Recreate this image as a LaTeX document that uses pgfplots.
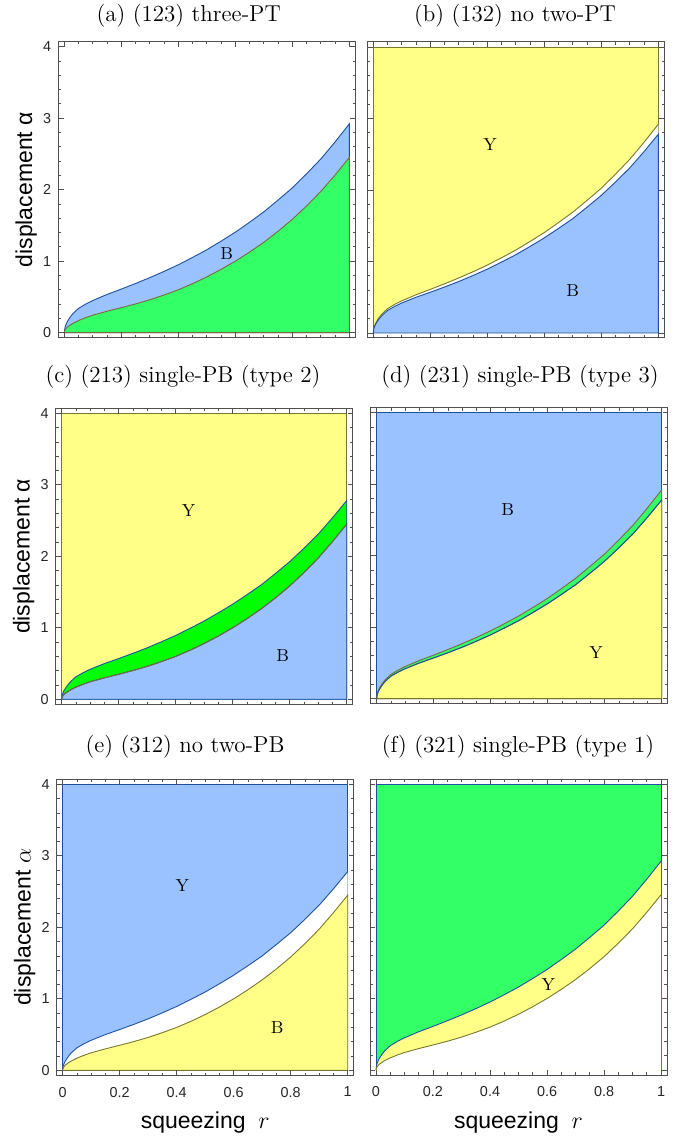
\documentclass[border=0pt]{standalone}
\usepackage{fontspec}
\setsansfont{Liberation Sans}
\usepackage{pgfplots}
\pgfplotsset{compat=1.18}
\usepackage{pgfplotstable}

\definecolor{cB}{RGB}{153,194,255}
\definecolor{eB}{RGB}{30,80,160}
\definecolor{cY}{RGB}{255,255,136}
\definecolor{eY}{RGB}{120,120,45}
\definecolor{cG}{RGB}{51,255,102}
\definecolor{cGc}{RGB}{0,255,0}
\definecolor{eG}{RGB}{125,105,60}
\definecolor{frm}{RGB}{80,80,80}

% boundary curves U > M > L; the last row closes each area down to y=0
\pgfplotstableread{
r U M L
0 0 0 0
0.002 0.065 0.06 0.033
0.005 0.105 0.095 0.052
0.01 0.15 0.135 0.075
0.02 0.215 0.195 0.105
0.03 0.265 0.243 0.13
0.05 0.34 0.315 0.17
0.075 0.40 0.372 0.21
0.1 0.45 0.42 0.245
0.15 0.535 0.50 0.30
0.2 0.61 0.57 0.35
0.25 0.688 0.643 0.402
0.3 0.77 0.72 0.46
0.35 0.857 0.804 0.527
0.4 0.95 0.893 0.60
0.45 1.053 0.992 0.685
0.5 1.16 1.095 0.78
0.55 1.28 1.21 0.885
0.6 1.405 1.33 1.00
0.65 1.545 1.463 1.127
0.7 1.69 1.60 1.265
0.75 1.855 1.76 1.418
0.8 2.025 1.925 1.585
0.85 2.222 2.112 1.772
0.9 2.43 2.31 1.975
0.95 2.668 2.538 2.205
1.0 2.92 2.78 2.45
1.0 0 0 0
}\curves

\pgfplotstableread{
x y
0 0
0 4
1 4
1 0
}\boxt

\pgfplotsset{
 panel/.style={
  scale only axis, width=148.5pt, height=148pt,
  anchor=north west,
  xmin=-0.021, xmax=1.021, ymin=-0.07, ymax=4.07,
  xtick={0,0.2,0.4,0.6,0.8,1}, ytick={0,1,2,3,4},
  minor x tick num=3, minor y tick num=4,
  tick align=inside, major tick length=2.6pt, minor tick length=1.4pt,
  axis line style={frm, line width=0.5pt},
  every tick/.style={frm, line width=0.4pt},
  tick label style={font=\sffamily\fontsize{7.2}{8}\selectfont, text=black!85},
  /pgf/number format/assume math mode=true,
  xticklabels={}, yticklabels={},
  axis on top,
  ylabel style={at={(axis description cs:-0.108,0.5)}, anchor=center, font=\sffamily\fontsize{11.5}{13}\selectfont},
  xlabel style={at={(axis description cs:0.5,-0.16)}, anchor=center, font=\sffamily\fontsize{11.5}{13}\selectfont},
  xticklabel style={yshift=-2.3pt},
 },
 bottomrow/.style={xticklabels={0,0.2,0.4,0.6,0.8,1}, xlabel={squeezing\ \ $r$}},
 leftcol/.style={yticklabels={0,1,2,3,4}},
 reg/.style={line width=0.45pt},
 curve/.style={line width=0.45pt, skip coords between index={27}{28}},
}

\newcommand{\lab}[3]{\node[font=\fontsize{8.7}{10}\selectfont] at (axis cs:#1,#2) {#3};}

\begin{document}
\begin{tikzpicture}
\useasboundingbox (0,0) rectangle (346.5pt,-569.5pt);

% (a)
\begin{axis}[panel, leftcol, at={(29.15pt,-20.85pt)}, ylabel={displacement α}]
\addplot[reg, fill=cB, draw=eB] table[x=r,y=U]{\curves} -- cycle;
\addplot[reg, fill=cG, draw=eG] table[x=r,y=L]{\curves} -- cycle;
\lab{0.57}{1.11}{B}
\end{axis}

% (b)
\begin{axis}[panel, at={(183.65pt,-21.0pt)}]
\addplot[fill=cY, draw=none] table[x=x,y=y]{\boxt} -- cycle;
\addplot[reg, draw=eY] table[x=x,y=y]{\boxt};
\addplot[fill=white, draw=none] table[x=r,y=U]{\curves} -- cycle;
\addplot[curve, draw=eY] table[x=r,y=U]{\curves};
\addplot[reg, fill=cB, draw=eB] table[x=r,y=M]{\curves} -- cycle;
\lab{0.41}{2.64}{Y}
\lab{0.70}{0.59}{B}
\end{axis}

% (c)
\begin{axis}[panel, leftcol, at={(27.85pt,-204.15pt)}, ylabel={displacement α}]
\addplot[fill=cY, draw=none] table[x=x,y=y]{\boxt} -- cycle;
\addplot[reg, draw=eY] table[x=x,y=y]{\boxt};
\addplot[reg, fill=cGc, draw=eB] table[x=r,y=M]{\curves} -- cycle;
\addplot[reg, fill=cB, draw=eB] table[x=r,y=L]{\curves} -- cycle;
\addplot[curve, draw=eG] table[x=r,y=L]{\curves};
\lab{0.445}{2.64}{Y}
\lab{0.775}{0.61}{B}
\end{axis}

% (d)
\begin{axis}[panel, at={(185.35pt,-203.85pt)}]
\addplot[fill=cB, draw=none] table[x=x,y=y]{\boxt} -- cycle;
\addplot[reg, draw=eB] table[x=x,y=y]{\boxt};
\addplot[reg, fill=cG, draw=eG] table[x=r,y=U]{\curves} -- cycle;
\addplot[reg, fill=cY, draw=eY] table[x=r,y=M]{\curves} -- cycle;
\addplot[curve, draw=eB] table[x=r,y=M]{\curves};
\lab{0.46}{2.65}{B}
\lab{0.77}{0.64}{Y}
\end{axis}

% (e)
\begin{axis}[panel, leftcol, bottomrow, at={(28.35pt,-389.65pt)}, ylabel={displacement $\alpha$}]
\addplot[fill=cB, draw=none] table[x=x,y=y]{\boxt} -- cycle;
\addplot[reg, draw=eB] table[x=x,y=y]{\boxt};
\addplot[fill=white, draw=none] table[x=r,y=M]{\curves} -- cycle;
\addplot[curve, draw=eB] table[x=r,y=M]{\curves};
\addplot[reg, fill=cY, draw=eY] table[x=r,y=L]{\curves} -- cycle;
\lab{0.42}{2.59}{Y}
\lab{0.753}{0.60}{B}
\end{axis}

% (f)
\begin{axis}[panel, bottomrow, at={(185.0pt,-389.5pt)}]
\addplot[fill=cG, draw=none] table[x=x,y=y]{\boxt} -- cycle;
\addplot[reg, draw=eB] table[x=x,y=y]{\boxt};
\addplot[fill=cY, draw=none] table[x=r,y=U]{\curves} -- cycle;
\addplot[curve, draw=eB] table[x=r,y=U]{\curves};
\addplot[fill=white, draw=none] table[x=r,y=L]{\curves} -- cycle;
\addplot[curve, draw=eY] table[x=r,y=L]{\curves};
\lab{0.605}{1.19}{Y}
\end{axis}

\node[font=\fontsize{11.5}{13}\selectfont] at (94.35pt,-8.1pt) {(a) (123) three-PT};
\node[font=\fontsize{11.5}{13}\selectfont] at (257.5pt,-8.1pt) {(b) (132) no two-PT};
\node[font=\fontsize{11.5}{13}\selectfont] at (91.5pt,-188.5pt) {(c) (213) single-PB (type 2)};
\node[font=\fontsize{11.5}{13}\selectfont] at (260pt,-188.5pt) {(d) (231) single-PB (type 3)};
\node[font=\fontsize{11.5}{13}\selectfont] at (92.5pt,-373.35pt) {(e) (312) no two-PB};
\node[font=\fontsize{11.5}{13}\selectfont] at (259pt,-373.5pt) {(f) (321) single-PB (type 1)};
\end{tikzpicture}
\end{document}
